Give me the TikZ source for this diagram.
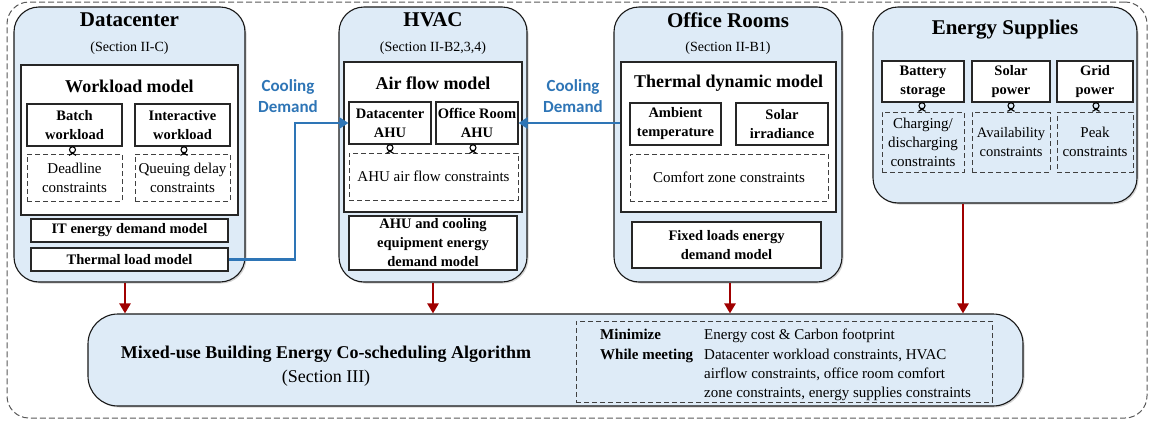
\documentclass[tikz,border=0pt]{standalone}
\usepackage{fontspec}
\setmainfont{Liberation Serif}[Ligatures=TeX]
\newfontfamily\carlito{Carlito}
\usetikzlibrary{arrows.meta,shadows,calc}
\definecolor{secfill}{RGB}{222,235,247}
\definecolor{cblue}{RGB}{46,117,182}
\definecolor{cred}{RGB}{160,0,0}
\begin{document}
\begin{tikzpicture}[x=1pt,y=-1pt,
  frame/.style={draw=black!65, line width=1pt, dash pattern=on 6pt off 3pt, rounded corners=22pt},
  sect/.style={draw=black!90, line width=1.1pt, fill=secfill, rounded corners=25pt,
    drop shadow={shadow xshift=1.5pt,shadow yshift=-1.5pt,opacity=0.35}},
  wbox/.style={draw=black!85, line width=1.1pt, fill=white, align=center, inner sep=0pt},
  cbox/.style={draw=black!75, line width=1pt, dash pattern=on 5pt off 3pt, align=center, inner sep=0pt},
  title/.style={font=\rmfamily\fontsize{21}{24}\selectfont\bfseries, inner sep=0pt},
  sectref/.style={font=\rmfamily\fontsize{14}{17}\selectfont, inner sep=0pt},
  modeltitle/.style={font=\rmfamily\fontsize{18}{21}\selectfont\bfseries, inner sep=0pt},
  bftext/.style={font=\rmfamily\fontsize{14.5}{19}\selectfont\bfseries},
  rmtext/.style={font=\rmfamily\fontsize{15}{19}\selectfont},
  flow/.style={draw=cblue, line width=2.6pt, -{Triangle[width=11pt,length=9pt]}},
  feed/.style={draw=cred, line width=2.4pt, -{Triangle[width=11pt,length=10pt]}},
  cdlabel/.style={font=\carlito\fontsize{17}{21}\selectfont\bfseries, text=cblue, align=center, inner sep=0pt},
  knot/.pic={\draw[line width=1.1pt] (0,3.2) circle[radius=3];
             \draw[line width=1.1pt] (-1.8,5.8) -- (3.5,8.8) (1.8,5.8) -- (-3.5,8.8);}
]
\useasboundingbox (0,0) rectangle (1151,426);

% outer frame
\node[frame, minimum width=1140, minimum height=416] (outer) at (577,210) {};

% section boxes
\node[sect, minimum width=231, minimum height=275] (dc) at (129.5,144.5) {};
\node[sect, minimum width=188, minimum height=275] (hvac) at (433,144.5) {};
\node[sect, minimum width=228, minimum height=275] (office) at (728,144.5) {};
\node[sect, minimum width=264, minimum height=196] (energy) at (1005,105) {};
\node[sect, rounded corners=30pt, minimum width=935, minimum height=92] (alg) at (555.5,360) {};

% ---------- Datacenter ----------
\node[title] (dctitle) at (129.5,20) {Datacenter};
\node[sectref] (dcref) at (129.5,48) {(Section II-C)};
\node[wbox, minimum width=217, minimum height=150] (wl) at (129.5,140) {};
\node[modeltitle] (wltitle) at (129.5,86) {Workload model};
\node[wbox, bftext, minimum width=95, minimum height=42] (batch) at (74.5,125) {Batch\\workload};
\node[wbox, bftext, minimum width=95, minimum height=42] (inter) at (182.5,125) {Interactive\\workload};
\node[cbox, rmtext, fill=white, minimum width=95, minimum height=47] (deadline) at (74.5,177.5) {Deadline\\constraints};
\node[cbox, rmtext, fill=white, minimum width=95, minimum height=47] (queue) at (182.5,177.5) {Queuing delay\\constraints};
\pic at ($(batch.south)+(-2,0)$) {knot};
\pic at ($(inter.south)+(1.5,0)$) {knot};
\node[wbox, bftext, minimum width=197, minimum height=23] (itdem) at (129.5,230.5) {IT energy demand model};
\node[wbox, bftext, minimum width=197, minimum height=23] (thermal) at (129.5,259.5) {Thermal load model};

% ---------- HVAC ----------
\node[title] (hvactitle) at (433,20) {HVAC};
\node[sectref] (hvacref) at (433,48) {(Section II-B2,3,4)};
\node[wbox, minimum width=178, minimum height=150] (air) at (433,137) {};
\node[modeltitle] (airtitle) at (433,83) {Air flow model};
\node[wbox, bftext, minimum width=82, minimum height=42] (dcahu) at (390,123) {Datacenter\\AHU};
\node[wbox, bftext, minimum width=82, minimum height=42] (orahu) at (477,123) {Office Room\\AHU};
\node[cbox, rmtext, fill=white, minimum width=169, minimum height=47] (ahucon) at (433.5,176.5) {AHU air flow constraints};
\pic at (dcahu.south) {knot};
\pic at ($(orahu.south)+(-4,0)$) {knot};
\node[wbox, bftext, minimum width=168, minimum height=54] (cooling) at (433,243) {AHU and cooling\\equipment energy\\demand model};

% ---------- Office Rooms ----------
\node[title] (offtitle) at (728,20) {Office Rooms};
\node[sectref] (offref) at (728,48) {(Section II-B1)};
\node[wbox, minimum width=215, minimum height=150] (thdyn) at (728.5,137) {};
\node[modeltitle] (thdyntitle) at (728.5,83) {Thermal dynamic model};
\node[wbox, bftext, minimum width=91, minimum height=42] (ambient) at (675.5,124) {Ambient\\temperature};
\node[wbox, bftext, minimum width=92, minimum height=42] (solarirr) at (782,124) {Solar\\irradiance};
\node[cbox, rmtext, fill=white, minimum width=198, minimum height=47] (comfort) at (729,177.5) {Comfort zone constraints};
\node[wbox, bftext, minimum width=189, minimum height=46] (fixed) at (726.5,245) {Fixed loads energy\\demand model};

% ---------- Energy Supplies ----------
\node[title] (entitle) at (1005,30) {Energy Supplies};
\node[wbox, bftext, minimum width=82, minimum height=41] (battery) at (923,81.5) {Battery\\storage};
\node[wbox, bftext, minimum width=78, minimum height=41] (solarpw) at (1011,81.5) {Solar\\power};
\node[wbox, bftext, minimum width=76, minimum height=41] (grid) at (1095,81.5) {Grid\\power};
\node[cbox, rmtext, minimum width=82, minimum height=60] (charge) at (923,142) {Charging/\\discharging\\constraints};
\node[cbox, font=\rmfamily\fontsize{14.5}{19}\selectfont, minimum width=78, minimum height=60] (avail) at (1011,142) {Availability\\constraints};
\node[cbox, rmtext, minimum width=76, minimum height=60] (peak) at (1095,142) {Peak\\constraints};
\pic at ($(battery.south)+(-1,0)$) {knot};
\pic at (solarpw.south) {knot};
\pic at ($(grid.south)+(1,0)$) {knot};

% ---------- Algorithm ----------
\node[font=\rmfamily\fontsize{18}{24}\selectfont, align=center, inner sep=0pt] (algtitle) at (326,366)
  {\textbf{Mixed-use Building Energy Co-scheduling Algorithm}\\(Section III)};
\node[cbox, minimum width=416, minimum height=81] (goal) at (784,361.5) {};
\node[font=\rmfamily\fontsize{15}{19}\selectfont\bfseries, anchor=base west, inner sep=0pt] (minlbl) at (600,339) {Minimize};
\node[rmtext, anchor=base west, inner sep=0pt] (minval) at (704,339) {Energy cost \& Carbon footprint};
\node[font=\rmfamily\fontsize{15}{19}\selectfont\bfseries, anchor=base west, inner sep=0pt] (whilelbl) at (600,359) {While meeting};
\node[rmtext, anchor=north west, align=left, inner sep=0pt] (whileval) at (704,348.5)
  {Datacenter workload constraints, HVAC\\airflow constraints, office room comfort\\zone constraints, energy supplies constraints};

% ---------- connectors ----------
\coordinate (bend) at (295,123);
\draw[flow] (thermal.east) -| (bend) -- (dcahu.west);
\draw[flow] (orahu.east -| thdyn.west) -- (orahu.east);
\node[cdlabel] (cd1) at (288,96.5) {Cooling\\Demand};
\node[cdlabel] (cd2) at (573,96.5) {Cooling\\Demand};

\coordinate (dcout) at ($(dc.south)+(-4.5,0)$);
\coordinate (hvacout) at (hvac.south);
\coordinate (offout) at ($(office.south)+(2,0)$);
\coordinate (enout) at ($(energy.south)+(-42,0)$);
\draw[feed] (dcout) -- (dcout |- alg.north);
\draw[feed] (hvacout) -- (hvacout |- alg.north);
\draw[feed] (offout) -- (offout |- alg.north);
\draw[feed] (enout) -- (enout |- alg.north);
\end{tikzpicture}
\end{document}
